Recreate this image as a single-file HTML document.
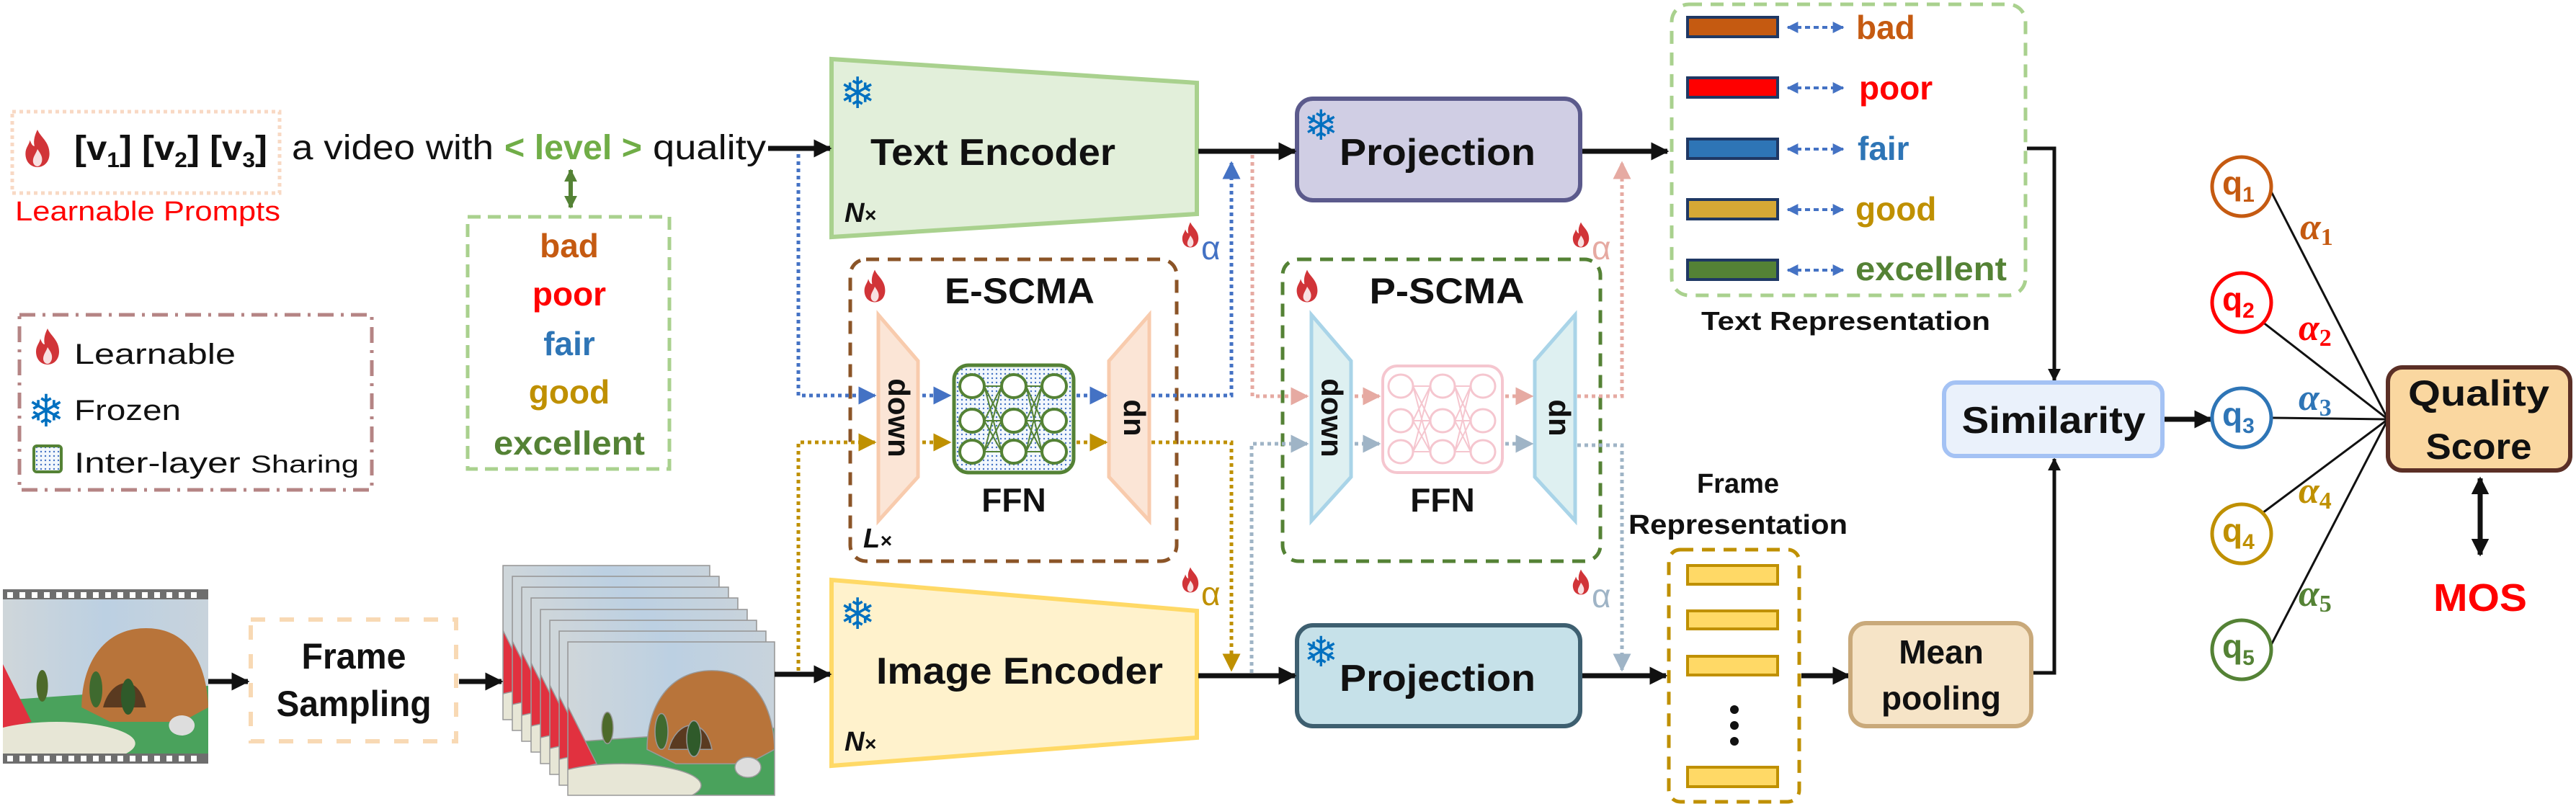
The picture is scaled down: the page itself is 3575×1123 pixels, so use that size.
<!DOCTYPE html>
<html><head><meta charset="utf-8"><style>html,body{margin:0;padding:0;background:#fff}svg{display:block}</style></head>
<body>
<svg width="3575" height="1123" viewBox="0 0 3575 1123" xmlns="http://www.w3.org/2000/svg" font-family="'Liberation Sans', sans-serif">
<defs>
<marker id="ak" viewBox="0 0 10 10" refX="9" refY="5" markerWidth="3.6" markerHeight="3.6" orient="auto" markerUnits="strokeWidth"><path d="M0,0L10,5L0,10z" fill="#111"/></marker>
<marker id="ab" viewBox="0 0 10 10" refX="9" refY="5" markerWidth="5" markerHeight="5" orient="auto" markerUnits="strokeWidth"><path d="M0,0L10,5L0,10z" fill="#4472c4"/></marker>
<marker id="ag" viewBox="0 0 10 10" refX="9" refY="5" markerWidth="5" markerHeight="5" orient="auto" markerUnits="strokeWidth"><path d="M0,0L10,5L0,10z" fill="#bf9000"/></marker>
<marker id="ap" viewBox="0 0 10 10" refX="9" refY="5" markerWidth="5" markerHeight="5" orient="auto" markerUnits="strokeWidth"><path d="M0,0L10,5L0,10z" fill="#e6aaa2"/></marker>
<marker id="ay" viewBox="0 0 10 10" refX="9" refY="5" markerWidth="5" markerHeight="5" orient="auto" markerUnits="strokeWidth"><path d="M0,0L10,5L0,10z" fill="#9fb4c6"/></marker>
<marker id="abs" viewBox="0 0 10 10" refX="9" refY="5" markerWidth="4" markerHeight="4" orient="auto-start-reverse" markerUnits="strokeWidth"><path d="M0,0L10,5L0,10z" fill="#4472c4"/></marker>
<marker id="adbl" viewBox="0 0 10 10" refX="9" refY="5" markerWidth="3.5" markerHeight="3.5" orient="auto-start-reverse" markerUnits="strokeWidth"><path d="M0,0L10,5L0,10z" fill="#111"/></marker>
<marker id="agr" viewBox="0 0 10 10" refX="9" refY="5" markerWidth="3" markerHeight="3" orient="auto-start-reverse" markerUnits="strokeWidth"><path d="M0,0L10,5L0,10z" fill="#548235"/></marker>
<pattern id="dots" width="6" height="6" patternUnits="userSpaceOnUse"><rect width="6" height="6" fill="#f2f7fc"/><circle cx="3" cy="3" r="1.2" fill="#4472c4"/></pattern>
<symbol id="flame" viewBox="0 0 40 50"><path d="M20,0C24,10 36,16 36,32C36,43 29,50 20,50C11,50 4,43 4,32C4,24 9,20 10,14C12,20 14,22 16,22C14,14 17,6 20,0Z" fill="#d13438"/><path d="M20,26C24,32 27,36 26,42C25,47 22,49 20,49C17,49 14,46 14,42C14,36 18,32 20,26Z" fill="#fff" opacity="0.85"/></symbol>
<symbol id="photo" viewBox="0 0 287 214" preserveAspectRatio="none">
<defs><linearGradient id="sky" x1="0" x2="1"><stop offset="0" stop-color="#cfd6da"/><stop offset="0.5" stop-color="#bcd0e2"/><stop offset="1" stop-color="#c8d3dc"/></linearGradient></defs>
<rect width="287" height="214" fill="url(#sky)"/>
<path d="M0,140 L287,120 L287,214 L0,214Z" fill="#4aa25c"/>
<path d="M0,90 L40,170 L0,180Z" fill="#e1313f"/>
<path d="M110,150 C110,90 140,40 200,40 C260,40 285,90 287,150 L250,170 L150,170Z" fill="#b8743a"/>
<path d="M140,150 C150,110 190,100 200,150Z" fill="#5a3a20"/>
<ellipse cx="75" cy="200" rx="110" ry="30" fill="#e7e6d6"/>
<ellipse cx="55" cy="120" rx="8" ry="22" fill="#4d6a2a"/><ellipse cx="130" cy="125" rx="9" ry="25" fill="#3f6a2f"/><ellipse cx="175" cy="135" rx="10" ry="25" fill="#2f5a2a"/>
<ellipse cx="250" cy="175" rx="18" ry="14" fill="#ddd"/>
</symbol>
</defs>

<!-- Prompt -->
<rect x="17" y="155" width="371" height="113" fill="none" stroke="#f8d9c4" stroke-width="5" stroke-dasharray="5 5"/>
<use href="#flame" x="31" y="180" width="42" height="52"/>
<text x="103" y="222" font-size="48" font-weight="bold" fill="#111" textLength="268" lengthAdjust="spacingAndGlyphs">[v<tspan font-size="30" dy="10">1</tspan><tspan dy="-10">] [v</tspan><tspan font-size="30" dy="10">2</tspan><tspan dy="-10">] [v</tspan><tspan font-size="30" dy="10">3</tspan><tspan dy="-10">]</tspan></text>
<text x="405" y="221" font-size="48" fill="#111" textLength="280" lengthAdjust="spacingAndGlyphs">a video with</text>
<text x="700" y="221" font-size="48" fill="#70ad47" font-weight="bold" textLength="191" lengthAdjust="spacingAndGlyphs">&lt; level &gt;</text>
<text x="906" y="221" font-size="48" fill="#111" textLength="157" lengthAdjust="spacingAndGlyphs">quality</text>
<text x="21" y="306" font-size="38" fill="#ff0000" textLength="368" lengthAdjust="spacingAndGlyphs">Learnable Prompts</text>
<line x1="792" y1="236" x2="792" y2="288" stroke="#548235" stroke-width="6" marker-start="url(#agr)" marker-end="url(#agr)"/>

<!-- level box -->
<rect x="649" y="301" width="280" height="350" fill="none" stroke="#a9d18e" stroke-width="5" stroke-dasharray="18 10"/>
<g font-size="46" font-weight="bold" text-anchor="middle">
<text x="790" y="357" fill="#c55a11">bad</text>
<text x="790" y="424" fill="#ff0000">poor</text>
<text x="790" y="493" fill="#2e75b6">fair</text>
<text x="790" y="560" fill="#bf9000">good</text>
<text x="790" y="631" fill="#548235" textLength="210" lengthAdjust="spacingAndGlyphs">excellent</text>
</g>

<!-- legend -->
<rect x="27" y="437" width="489" height="243" fill="none" stroke="#b58484" stroke-width="5" stroke-dasharray="22 10 4 10"/>
<use href="#flame" x="46" y="456" width="40" height="50"/>
<text x="103" y="505" font-size="40" fill="#111" textLength="224" lengthAdjust="spacingAndGlyphs">Learnable</text>
<text x="38" y="592" font-size="62" fill="#0070c0">❄</text>
<text x="103" y="583" font-size="40" fill="#111" textLength="148" lengthAdjust="spacingAndGlyphs">Frozen</text>
<rect x="47" y="619" width="38" height="36" rx="4" fill="url(#dots)" stroke="#548235" stroke-width="4"/>
<text x="103" y="656" font-size="40" fill="#111" textLength="395" lengthAdjust="spacingAndGlyphs">Inter-layer <tspan font-size="34">Sharing</tspan></text>

<!-- Film -->
<rect x="4" y="818" width="285" height="242" fill="#6e6e6e"/>
<use href="#photo" x="4" y="832" width="285" height="214"/>
<g fill="#fff">
<rect x="10" y="822" width="8" height="8"/><rect x="27" y="822" width="8" height="8"/><rect x="44" y="822" width="8" height="8"/><rect x="61" y="822" width="8" height="8"/><rect x="78" y="822" width="8" height="8"/><rect x="95" y="822" width="8" height="8"/><rect x="112" y="822" width="8" height="8"/><rect x="129" y="822" width="8" height="8"/><rect x="146" y="822" width="8" height="8"/><rect x="163" y="822" width="8" height="8"/><rect x="180" y="822" width="8" height="8"/><rect x="197" y="822" width="8" height="8"/><rect x="214" y="822" width="8" height="8"/><rect x="231" y="822" width="8" height="8"/><rect x="248" y="822" width="8" height="8"/><rect x="265" y="822" width="8" height="8"/>
<rect x="10" y="1049" width="8" height="8"/><rect x="27" y="1049" width="8" height="8"/><rect x="44" y="1049" width="8" height="8"/><rect x="61" y="1049" width="8" height="8"/><rect x="78" y="1049" width="8" height="8"/><rect x="95" y="1049" width="8" height="8"/><rect x="112" y="1049" width="8" height="8"/><rect x="129" y="1049" width="8" height="8"/><rect x="146" y="1049" width="8" height="8"/><rect x="163" y="1049" width="8" height="8"/><rect x="180" y="1049" width="8" height="8"/><rect x="197" y="1049" width="8" height="8"/><rect x="214" y="1049" width="8" height="8"/><rect x="231" y="1049" width="8" height="8"/><rect x="248" y="1049" width="8" height="8"/><rect x="265" y="1049" width="8" height="8"/>
</g>

<!-- Frame sampling -->
<rect x="348" y="860" width="285" height="169" fill="none" stroke="#f8d9b4" stroke-width="6" stroke-dasharray="20 20"/>
<g font-size="50" font-weight="bold" text-anchor="middle" fill="#111">
<text x="491" y="928" textLength="145" lengthAdjust="spacingAndGlyphs">Frame</text>
<text x="491" y="994" textLength="215" lengthAdjust="spacingAndGlyphs">Sampling</text>
</g>

<!-- stacked frames -->
<g stroke="#999" stroke-width="1.5">
<use href="#photo" x="698" y="785" width="287" height="214"/><rect x="698" y="785" width="287" height="214" fill="none"/>
<use href="#photo" x="711" y="800" width="287" height="214"/><rect x="711" y="800" width="287" height="214" fill="none"/>
<use href="#photo" x="724" y="815" width="287" height="214"/><rect x="724" y="815" width="287" height="214" fill="none"/>
<use href="#photo" x="737" y="830" width="287" height="214"/><rect x="737" y="830" width="287" height="214" fill="none"/>
<use href="#photo" x="750" y="846" width="287" height="214"/><rect x="750" y="846" width="287" height="214" fill="none"/>
<use href="#photo" x="763" y="861" width="287" height="214"/><rect x="763" y="861" width="287" height="214" fill="none"/>
<use href="#photo" x="776" y="876" width="287" height="214"/><rect x="776" y="876" width="287" height="214" fill="none"/>
<use href="#photo" x="788" y="891" width="287" height="213"/><rect x="788" y="891" width="287" height="213" fill="none"/>
</g>

<!-- Encoders -->
<polygon points="1154,82 1661,115 1661,297 1154,329" fill="#e2efda" stroke="#a9d18e" stroke-width="6"/>
<text x="1165" y="150" font-size="60" fill="#0070c0">❄</text>
<text x="1208" y="229" font-size="52" font-weight="bold" fill="#111" textLength="340" lengthAdjust="spacingAndGlyphs">Text Encoder</text>
<text x="1172" y="308" font-size="38" font-weight="bold" font-style="italic" fill="#111">N<tspan font-size="28">×</tspan></text>

<polygon points="1154,805 1661,848 1661,1024 1154,1063" fill="#fff2cc" stroke="#ffd966" stroke-width="6"/>
<text x="1165" y="873" font-size="60" fill="#0070c0">❄</text>
<text x="1216" y="949" font-size="52" font-weight="bold" fill="#111" textLength="398" lengthAdjust="spacingAndGlyphs">Image Encoder</text>
<text x="1172" y="1042" font-size="38" font-weight="bold" font-style="italic" fill="#111">N<tspan font-size="28">×</tspan></text>

<!-- Projections -->
<rect x="1800" y="137" width="393" height="141" rx="22" fill="#d0cee4" stroke="#5b5a8c" stroke-width="6"/>
<text x="1809" y="194" font-size="58" fill="#0070c0">❄</text>
<text x="1995" y="229" font-size="52" font-weight="bold" fill="#111" text-anchor="middle" textLength="272" lengthAdjust="spacingAndGlyphs">Projection</text>
<rect x="1800" y="868" width="393" height="140" rx="22" fill="#c6e1e9" stroke="#3e5f70" stroke-width="6"/>
<text x="1809" y="925" font-size="58" fill="#0070c0">❄</text>
<text x="1995" y="959" font-size="52" font-weight="bold" fill="#111" text-anchor="middle" textLength="272" lengthAdjust="spacingAndGlyphs">Projection</text>

<!-- E-SCMA -->
<rect x="1180" y="360" width="453" height="419" rx="22" fill="none" stroke="#8b5427" stroke-width="5" stroke-dasharray="18 12"/>
<use href="#flame" x="1196" y="374" width="36" height="46"/>
<text x="1415" y="421" font-size="50" font-weight="bold" fill="#111" text-anchor="middle" textLength="208" lengthAdjust="spacingAndGlyphs">E-SCMA</text>
<polygon points="1219,437 1274,501 1274,662 1219,723" fill="#fbe5d6" stroke="#f8cbad" stroke-width="5"/>
<polygon points="1539,501 1595,437 1595,723 1539,662" fill="#fbe5d6" stroke="#f8cbad" stroke-width="5"/>
<text transform="translate(1233,580) rotate(90)" font-size="42" font-weight="bold" text-anchor="middle" fill="#111">down</text>
<text transform="translate(1582,580) rotate(-90)" font-size="42" font-weight="bold" text-anchor="middle" fill="#111">up</text>
<rect x="1324" y="507" width="166" height="149" rx="20" fill="url(#dots)" stroke="#548235" stroke-width="5"/>
<g stroke="#548235" stroke-width="2" fill="none">
<path d="M1366,536L1390,536M1366,584L1390,584M1366,627L1390,627M1366,536L1390,584M1366,536L1390,627M1366,584L1390,536M1366,584L1390,627M1366,627L1390,536M1366,627L1390,584"/>
<path d="M1424,536L1446,536M1424,584L1446,584M1424,627L1446,627M1424,536L1446,584M1424,536L1446,627M1424,584L1446,536M1424,584L1446,627M1424,627L1446,536M1424,627L1446,584"/>
</g>
<g stroke="#548235" stroke-width="4" fill="#fff">
<ellipse cx="1349" cy="536" rx="17" ry="16"/><ellipse cx="1407" cy="536" rx="17" ry="16"/><ellipse cx="1463" cy="536" rx="17" ry="16"/>
<ellipse cx="1349" cy="584" rx="17" ry="16"/><ellipse cx="1407" cy="584" rx="17" ry="16"/><ellipse cx="1463" cy="584" rx="17" ry="16"/>
<ellipse cx="1349" cy="627" rx="17" ry="16"/><ellipse cx="1407" cy="627" rx="17" ry="16"/><ellipse cx="1463" cy="627" rx="17" ry="16"/>
</g>
<text x="1407" y="710" font-size="46" font-weight="bold" fill="#111" text-anchor="middle">FFN</text>
<text x="1198" y="760" font-size="38" font-weight="bold" font-style="italic" fill="#111">L<tspan font-size="28">×</tspan></text>

<!-- P-SCMA -->
<rect x="1780" y="360" width="441" height="419" rx="22" fill="none" stroke="#548235" stroke-width="5" stroke-dasharray="18 12"/>
<use href="#flame" x="1796" y="374" width="36" height="46"/>
<text x="2008" y="421" font-size="50" font-weight="bold" fill="#111" text-anchor="middle" textLength="215" lengthAdjust="spacingAndGlyphs">P-SCMA</text>
<polygon points="1820,437 1875,501 1875,662 1820,723" fill="#def0f1" stroke="#a9d4e8" stroke-width="5"/>
<polygon points="2130,501 2186,437 2186,723 2130,662" fill="#def0f1" stroke="#a9d4e8" stroke-width="5"/>
<text transform="translate(1834,580) rotate(90)" font-size="42" font-weight="bold" text-anchor="middle" fill="#111">down</text>
<text transform="translate(2172,580) rotate(-90)" font-size="42" font-weight="bold" text-anchor="middle" fill="#111">up</text>
<rect x="1919" y="508" width="166" height="148" rx="20" fill="#fff" stroke="#f5c6cf" stroke-width="4"/>
<g stroke="#f5c6cf" stroke-width="2" fill="none">
<path d="M1961,536L1985,536M1961,584L1985,584M1961,627L1985,627M1961,536L1985,584M1961,536L1985,627M1961,584L1985,536M1961,584L1985,627M1961,627L1985,536M1961,627L1985,584"/>
<path d="M2019,536L2041,536M2019,584L2041,584M2019,627L2041,627M2019,536L2041,584M2019,536L2041,627M2019,584L2041,536M2019,584L2041,627M2019,627L2041,536M2019,627L2041,584"/>
</g>
<g stroke="#f5c6cf" stroke-width="3" fill="#fff">
<ellipse cx="1944" cy="536" rx="17" ry="16"/><ellipse cx="2002" cy="536" rx="17" ry="16"/><ellipse cx="2058" cy="536" rx="17" ry="16"/>
<ellipse cx="1944" cy="584" rx="17" ry="16"/><ellipse cx="2002" cy="584" rx="17" ry="16"/><ellipse cx="2058" cy="584" rx="17" ry="16"/>
<ellipse cx="1944" cy="627" rx="17" ry="16"/><ellipse cx="2002" cy="627" rx="17" ry="16"/><ellipse cx="2058" cy="627" rx="17" ry="16"/>
</g>
<text x="2002" y="710" font-size="46" font-weight="bold" fill="#111" text-anchor="middle">FFN</text>

<!-- dotted connectors -->
<g fill="none" stroke-width="5" stroke-dasharray="5 5">
<path d="M1108,214V549H1214" stroke="#4472c4" marker-end="url(#ab)"/>
<path d="M1280,549H1318" stroke="#4472c4" marker-end="url(#ab)"/>
<path d="M1494,549H1535" stroke="#4472c4" marker-end="url(#ab)"/>
<path d="M1598,549H1709V226" stroke="#4472c4" marker-end="url(#ab)"/>
<path d="M1108,931V614H1214" stroke="#bf9000" marker-end="url(#ag)"/>
<path d="M1280,614H1318" stroke="#bf9000" marker-end="url(#ag)"/>
<path d="M1494,614H1535" stroke="#bf9000" marker-end="url(#ag)"/>
<path d="M1598,614H1709V930" stroke="#bf9000" marker-end="url(#ag)"/>
<path d="M1738,215V550H1814" stroke="#e6aaa2" marker-end="url(#ap)"/>
<path d="M1880,550H1914" stroke="#e6aaa2" marker-end="url(#ap)"/>
<path d="M2089,550H2126" stroke="#e6aaa2" marker-end="url(#ap)"/>
<path d="M2189,550H2251V226" stroke="#e6aaa2" marker-end="url(#ap)"/>
<path d="M1737,934V616H1814" stroke="#9fb4c6" marker-end="url(#ay)"/>
<path d="M1880,616H1914" stroke="#9fb4c6" marker-end="url(#ay)"/>
<path d="M2089,616H2126" stroke="#9fb4c6" marker-end="url(#ay)"/>
<path d="M2189,618H2251V930" stroke="#9fb4c6" marker-end="url(#ay)"/>
</g>

<!-- alphas -->
<use href="#flame" x="1638" y="308" width="28" height="36"/><text x="1667" y="360" font-size="46" fill="#4472c4">α</text>
<use href="#flame" x="1638" y="787" width="28" height="36"/><text x="1667" y="840" font-size="46" fill="#bf9000">α</text>
<use href="#flame" x="2180" y="308" width="28" height="36"/><text x="2209" y="360" font-size="46" fill="#e6aaa2">α</text>
<use href="#flame" x="2180" y="790" width="28" height="36"/><text x="2209" y="843" font-size="46" fill="#9fb4c6">α</text>

<!-- black arrows -->
<g stroke="#111" stroke-width="7" fill="none" marker-end="url(#ak)">
<line x1="1066" y1="206" x2="1152" y2="206"/>
<line x1="1663" y1="210" x2="1797" y2="210"/>
<line x1="2196" y1="210" x2="2314" y2="210"/>
<line x1="289" y1="946" x2="344" y2="946"/>
<line x1="637" y1="946" x2="696" y2="946"/>
<line x1="1075" y1="936" x2="1152" y2="936"/>
<line x1="1663" y1="938" x2="1797" y2="938"/>
<line x1="2196" y1="938" x2="2312" y2="938"/>
<line x1="2500" y1="938" x2="2566" y2="938"/>
<line x1="3003" y1="582" x2="3068" y2="582"/>
</g>
<g stroke="#111" stroke-width="5" fill="none" marker-end="url(#ak)">
<path d="M2813,206H2851V528"/>
<path d="M2821,934H2851V637"/>
</g>
<line x1="3442" y1="664" x2="3442" y2="770" stroke="#111" stroke-width="7" marker-start="url(#adbl)" marker-end="url(#adbl)"/>

<!-- Text representation -->
<rect x="2320" y="6" width="491" height="404" rx="24" fill="none" stroke="#a9d18e" stroke-width="5" stroke-dasharray="18 12"/>
<g stroke="#1f3864" stroke-width="4">
<rect x="2342" y="24" width="125" height="27" fill="#c55a11"/>
<rect x="2342" y="108" width="125" height="27" fill="#ff0000"/>
<rect x="2342" y="193" width="125" height="27" fill="#2e75b6"/>
<rect x="2342" y="277" width="125" height="27" fill="#d6a835"/>
<rect x="2342" y="361" width="125" height="27" fill="#548235"/>
</g>
<g stroke="#4472c4" stroke-width="4" stroke-dasharray="7 5" fill="none" marker-start="url(#abs)" marker-end="url(#abs)">
<line x1="2481" y1="38" x2="2558" y2="38"/>
<line x1="2481" y1="122" x2="2558" y2="122"/>
<line x1="2481" y1="207" x2="2558" y2="207"/>
<line x1="2481" y1="291" x2="2558" y2="291"/>
<line x1="2481" y1="375" x2="2558" y2="375"/>
</g>
<g font-size="46" font-weight="bold">
<text x="2576" y="54" fill="#c55a11">bad</text>
<text x="2580" y="138" fill="#ff0000">poor</text>
<text x="2578" y="222" fill="#2e75b6">fair</text>
<text x="2575" y="306" fill="#bf9000">good</text>
<text x="2575" y="389" fill="#548235" textLength="210" lengthAdjust="spacingAndGlyphs">excellent</text>
</g>
<text x="2361" y="458" font-size="36" font-weight="bold" fill="#111" textLength="401" lengthAdjust="spacingAndGlyphs">Text Representation</text>

<!-- Frame representation -->
<text x="2412" y="684" font-size="38" font-weight="bold" fill="#111" text-anchor="middle">Frame</text>
<text x="2260" y="741" font-size="38" font-weight="bold" fill="#111" textLength="304" lengthAdjust="spacingAndGlyphs">Representation</text>
<rect x="2316" y="763" width="181" height="350" rx="16" fill="none" stroke="#bf9000" stroke-width="5" stroke-dasharray="18 12"/>
<g fill="#ffd966" stroke="#bf9000" stroke-width="4">
<rect x="2342" y="785" width="125" height="26"/><rect x="2342" y="848" width="125" height="25"/><rect x="2342" y="911" width="125" height="26"/><rect x="2342" y="1065" width="125" height="27"/>
</g>
<circle cx="2407" cy="985" r="6" fill="#111"/><circle cx="2407" cy="1007" r="6" fill="#111"/><circle cx="2407" cy="1029" r="6" fill="#111"/>

<!-- Mean pooling -->
<rect x="2568" y="865" width="251" height="143" rx="22" fill="#f6e4c7" stroke="#c9a97a" stroke-width="6"/>
<text x="2694" y="921" font-size="46" font-weight="bold" fill="#111" text-anchor="middle">Mean</text>
<text x="2694" y="985" font-size="46" font-weight="bold" fill="#111" text-anchor="middle">pooling</text>

<!-- Similarity -->
<rect x="2698" y="531" width="303" height="102" rx="16" fill="#eaf1fb" stroke="#a4c2f4" stroke-width="6"/>
<text x="2850" y="601" font-size="52" font-weight="bold" fill="#111" text-anchor="middle" textLength="255" lengthAdjust="spacingAndGlyphs">Similarity</text>

<!-- q circles & lines -->
<g stroke="#111" stroke-width="3">
<line x1="3150" y1="262" x2="3314" y2="582"/>
<line x1="3140" y1="447" x2="3314" y2="582"/>
<line x1="3152" y1="580" x2="3314" y2="582"/>
<line x1="3140" y1="712" x2="3314" y2="582"/>
<line x1="3150" y1="899" x2="3314" y2="582"/>
</g>
<g fill="#fff" stroke-width="5">
<circle cx="3111" cy="259" r="41" stroke="#c55a11"/>
<circle cx="3111" cy="420" r="41" stroke="#ff0000"/>
<circle cx="3111" cy="580" r="41" stroke="#2e75b6"/>
<circle cx="3111" cy="741" r="41" stroke="#bf9000"/>
<circle cx="3111" cy="902" r="41" stroke="#548235"/>
</g>
<g font-size="46" font-weight="bold">
<text x="3084" y="270" fill="#c55a11">q<tspan font-size="30" dy="10">1</tspan></text>
<text x="3084" y="431" fill="#ff0000">q<tspan font-size="30" dy="10">2</tspan></text>
<text x="3084" y="591" fill="#2e75b6">q<tspan font-size="30" dy="10">3</tspan></text>
<text x="3084" y="752" fill="#bf9000">q<tspan font-size="30" dy="10">4</tspan></text>
<text x="3084" y="913" fill="#548235">q<tspan font-size="30" dy="10">5</tspan></text>
</g>
<g font-family="'Liberation Serif', serif" font-style="italic" font-weight="bold" font-size="52">
<text x="3192" y="332" fill="#c55a11">α<tspan font-size="34" font-style="normal" dy="8">1</tspan></text>
<text x="3190" y="472" fill="#ff0000">α<tspan font-size="34" font-style="normal" dy="8">2</tspan></text>
<text x="3190" y="569" fill="#2e75b6">α<tspan font-size="34" font-style="normal" dy="8">3</tspan></text>
<text x="3190" y="698" fill="#bf9000">α<tspan font-size="34" font-style="normal" dy="8">4</tspan></text>
<text x="3190" y="841" fill="#548235">α<tspan font-size="34" font-style="normal" dy="8">5</tspan></text>
</g>

<!-- Quality score -->
<rect x="3314" y="510" width="253" height="143" rx="20" fill="#fad7a0" stroke="#5b2f26" stroke-width="6"/>
<text x="3440" y="563" font-size="50" font-weight="bold" fill="#111" text-anchor="middle" textLength="196" lengthAdjust="spacingAndGlyphs">Quality</text>
<text x="3440" y="637" font-size="50" font-weight="bold" fill="#111" text-anchor="middle" textLength="147" lengthAdjust="spacingAndGlyphs">Score</text>
<text x="3442" y="848" font-size="54" font-weight="bold" fill="#ff0000" text-anchor="middle" textLength="130" lengthAdjust="spacingAndGlyphs">MOS</text>
</svg>
</body></html>
